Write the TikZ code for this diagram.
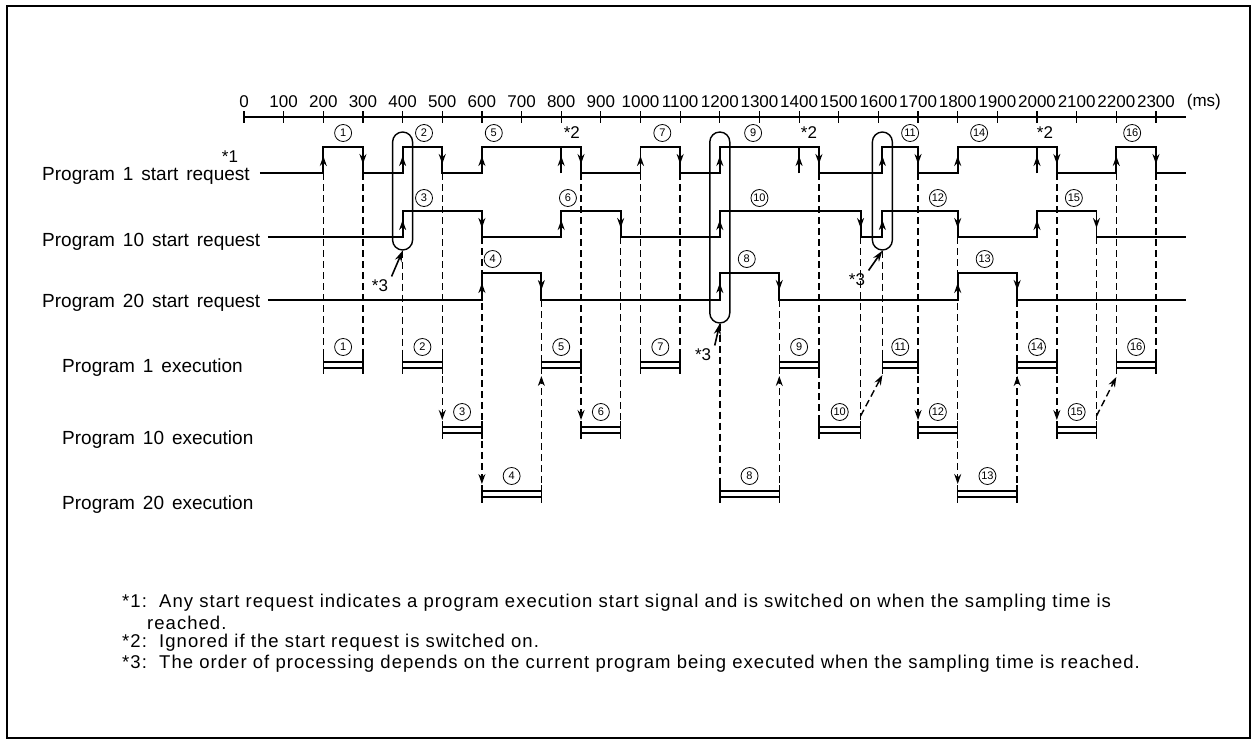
\documentclass[tikz,border=0pt]{standalone}
\usepackage{fontspec}
\setmainfont{Liberation Sans}
\newfontfamily\rowfont{Liberation Sans}[WordSpace=1.5]
\newfontfamily\notefont{Liberation Sans}[LetterSpace=5.6]
\usetikzlibrary{arrows.meta, positioning}

% one execution bar: name, start, end, row y, number
\newcommand{\execbar}[5]{%
  \coordinate (#1-s) at (#2,#4);
  \coordinate (#1-e) at (#3,#4);
  \draw[barline] ([yshift=2.8pt]#1-s) -- ([yshift=2.8pt]#1-e)
                 ([yshift=-2.8pt]#1-s) -- ([yshift=-2.8pt]#1-e)
                 ([yshift=9pt]#1-s) -- ([yshift=-9pt]#1-s)
                 ([yshift=9pt]#1-e) -- ([yshift=-9pt]#1-e);
  \path (#1-s) -- (#1-e) node[num, midway, yshift=18pt] (#1-n) {#5};
}

\begin{document}
\begin{tikzpicture}[x=1pt, y=-1pt,
  font=\fontsize{17}{20}\selectfont,
  sig/.style={line width=1.9pt},
  tip/.style={-{Stealth[length=10pt,width=7pt]}, line width=1.9pt},
  guide/.style={line width=1.4pt, dash pattern=on 7pt off 4pt},
  flow/.style={guide, -{Stealth[length=10pt,width=7pt]}},
  barline/.style={line width=1.5pt},
  num/.style={circle, draw, line width=0.8pt, minimum size=17pt, inner sep=0pt, font=\fontsize{11}{11}\selectfont},
  loopbox/.style={draw, line width=1.4pt, rounded corners=10pt, minimum width=20pt, inner sep=0pt},
  pointer/.style={-{Stealth[length=11pt,width=7pt]}, line width=1.6pt},
  rowlabel/.style={anchor=west, inner sep=0pt, font=\rowfont\fontsize{19}{21}\selectfont},
  note/.style={anchor=west, inner sep=0pt, font=\notefont\fontsize{18.5}{21}\selectfont}]
\useasboundingbox (0,0) rectangle (1256,744);
\draw[line width=2pt] (7,6) rectangle (1250,738);

% row names
\node[rowlabel] (req1) at (42,176) {Program 1 start request};
\node[rowlabel] (req10) at (42,242) {Program 10 start request};
\node[rowlabel] (req20) at (42,303) {Program 20 start request};
\node[rowlabel] (run1) at (62,368) {Program 1 execution};
\node[rowlabel] (run10) at (62,440) {Program 10 execution};
\node[rowlabel] (run20) at (62,505) {Program 20 execution};
\node (star1) at (230,157) {*1};

% notes
\node[note] (note1) at (122,603) {*1:\ \ Any start request indicates a program execution start signal and is switched on when the sampling time is};
\node[note] (note1b) at (147,623) {reached.};
\node[note] (note2) at (122,643) {*2:\ \ Ignored if the start request is switched on.};
\node[note] (note3) at (122,664) {*3:\ \ The order of processing depends on the current program being executed when the sampling time is reached.};

\begin{scope}[xshift=244pt, x=39.65pt]
% time axis
\draw[sig] (0,117) -- (23.75,117);
\foreach \t [evaluate=\t as \v using int(100*\t)] in {0,...,23} {
  \draw[line width=1.2pt] (\t,111) -- (\t,123);
  \node (ax\t) at (\t,102) {\v};
}
\node[anchor=west, inner sep=1pt] (unit) at (23.75,102) {(ms)};

\coordinate (lvl1) at (0,173);
\coordinate (lvl10) at (0,237);
\coordinate (lvl20) at (0,300);

% start requests
\draw[sig] (0.4,173) -- (2,173) -- (2,147) -- (3,147) -- (3,173) -- (4,173) -- (4,147) -- (5,147) -- (5,173) -- (6,173) -- (6,147) -- (8.5,147) -- (8.5,173) -- (10,173) -- (10,147) -- (11,147) -- (11,173) -- (12,173) -- (12,147) -- (14.5,147) -- (14.5,173) -- (16.1,173) -- (16.1,147) -- (17,147) -- (17,173) -- (18,173) -- (18,147) -- (20.5,147) -- (20.5,173) -- (22,173) -- (22,147) -- (23,147) -- (23,173) -- (23.75,173);
\draw[sig] (0.6,237) -- (4,237) -- (4,211) -- (6,211) -- (6,237) -- (8,237) -- (8,211) -- (9.5,211) -- (9.5,237) -- (12,237) -- (12,211) -- (15.55,211) -- (15.55,237) -- (16.1,237) -- (16.1,211) -- (18,211) -- (18,237) -- (20,237) -- (20,211) -- (21.5,211) -- (21.5,237) -- (23.75,237);
\draw[sig] (0.6,300) -- (6,300) -- (6,273) -- (7.5,273) -- (7.5,300) -- (12,300) -- (12,273) -- (13.5,273) -- (13.5,300) -- (18,300) -- (18,273) -- (19.5,273) -- (19.5,300) -- (23.75,300);
\foreach \t in {8,14,20} \draw[sig] (\t,173) -- (\t,147);

% edge arrows
\foreach \t in {2,4,6,8,10,12,14,16.1,18,20,22} \draw[tip] (\t,173) -- (\t,156);
\foreach \t in {3,5,8.5,11,14.5,17,20.5,23} \draw[tip] (\t,147) -- (\t,164);
\foreach \t in {4,8,12,16.1,20} \draw[tip] (\t,237) -- (\t,220);
\foreach \t in {6,9.5,15.55,18,21.5} \draw[tip] (\t,211) -- (\t,228);
\foreach \t in {6,12,18} \draw[tip] (\t,300) -- (\t,283);
\foreach \t in {7.5,13.5,19.5} \draw[tip] (\t,273) -- (\t,290);

% request numbers
\node[num] (q1) at (2.5,133) {1};
\node[num] (q2) at (4.54,133) {2};
\node[num] (q5) at (6.3,133) {5};
\node (w1) at (8.27,133) {*2};
\node[num] (q7) at (10.55,133) {7};
\node[num] (q9) at (12.84,133) {9};
\node (w2) at (14.25,133) {*2};
\node[num] (q11) at (16.8,133) {11};
\node[num] (q14) at (18.54,133) {14};
\node (w3) at (20.2,133) {*2};
\node[num] (q16) at (22.4,133) {16};
\node[num] (q3) at (4.54,198) {3};
\node[num] (q6) at (8.17,198) {6};
\node[num] (q10) at (13,198) {10};
\node[num] (q12) at (17.5,198) {12};
\node[num] (q15) at (20.93,198) {15};
\node[num] (q4) at (6.27,259) {4};
\node[num] (q8) at (12.68,259) {8};
\node[num] (q13) at (18.68,259) {13};

% execution bars
\execbar{r1}{2}{3}{365}{1}
\execbar{r2}{4}{5}{365}{2}
\execbar{r3}{5}{6}{430}{3}
\execbar{r4}{6}{7.5}{494}{4}
\execbar{r5}{7.5}{8.5}{365}{5}
\execbar{r6}{8.5}{9.5}{430}{6}
\execbar{r7}{10}{11}{365}{7}
\execbar{r8}{12}{13.5}{494}{8}
\execbar{r9}{13.5}{14.5}{365}{9}
\execbar{r10}{14.5}{15.55}{430}{10}
\execbar{r11}{16.1}{17}{365}{11}
\execbar{r12}{17}{18}{430}{12}
\execbar{r13}{18}{19.5}{494}{13}
\execbar{r14}{19.5}{20.5}{365}{14}
\execbar{r15}{20.5}{21.5}{430}{15}
\execbar{r16}{22}{23}{365}{16}

% sampling loops
\node[loopbox, minimum height=118pt] (k1) at (4,191) {};
\node[loopbox, minimum height=191pt] (k2) at (12,227.5) {};
\node[loopbox, minimum height=118pt] (k3) at (16.1,191) {};
\node (s3a) at (3.43,286) {*3};
\node (s3b) at (11.58,355) {*3};
\node (s3c) at (15.46,280) {*3};
\draw[pointer] (s3a.north east) -- (k1.south);
\draw[pointer] (s3b.north east) -- (k2.south);
\draw[pointer] (s3c.north east) -- (k3.south);

% guides and hand-overs
\draw[guide] (r1-s |- lvl1) -- (r1-s);
\draw[guide] (r1-e |- lvl1) -- (r1-e);
\draw[guide] (k1.south) -- (r2-s);
\draw[guide] (r2-e |- lvl1) -- (r2-e);
\draw[flow] (r2-e) -- ([yshift=10pt]r3-s);
\draw[guide] (r3-e |- lvl10) -- (r3-e);
\draw[flow] (r3-e) -- ([yshift=10pt]r4-s);
\draw[guide] (r4-e |- lvl20) -- (r4-e);
\draw[flow] (r4-e) -- ([yshift=-11pt]r5-s);
\draw[guide] (r5-e |- lvl1) -- (r5-e);
\draw[flow] (r5-e) -- ([yshift=10pt]r6-s);
\draw[guide] (r6-e |- lvl10) -- (r6-e);
\draw[guide] (r7-s |- lvl1) -- (r7-s);
\draw[guide] (r7-e |- lvl1) -- (r7-e);
\draw[guide] (k2.south) -- (r8-s);
\draw[guide] (r8-e |- lvl20) -- (r8-e);
\draw[flow] (r8-e) -- ([yshift=-11pt]r9-s);
\draw[guide] (r9-e |- lvl1) -- (r10-s);
\draw[guide] (r10-e |- lvl10) -- (r10-e);
\draw[flow] ([yshift=14pt]r10-e) -- ([yshift=-10pt]r11-s);
\draw[guide] (k3.south) -- (r11-s);
\draw[guide] (r11-e |- lvl1) -- (r11-e);
\draw[flow] (r11-e) -- ([yshift=10pt]r12-s);
\draw[guide] (r12-e |- lvl10) -- (r12-e);
\draw[flow] (r12-e) -- ([yshift=10pt]r13-s);
\draw[guide] (r13-e |- lvl20) -- (r13-e);
\draw[flow] (r13-e) -- ([yshift=-11pt]r14-s);
\draw[guide] (r14-e |- lvl1) -- (r14-e);
\draw[flow] (r14-e) -- ([yshift=10pt]r15-s);
\draw[guide] (r15-e |- lvl10) -- (r15-e);
\draw[flow] ([yshift=14pt]r15-e) -- ([yshift=-12pt]r16-s);
\draw[guide] (r16-s |- lvl1) -- (r16-s);
\draw[guide] (r16-e |- lvl1) -- (r16-e);
\end{scope}
\end{tikzpicture}
\end{document}
